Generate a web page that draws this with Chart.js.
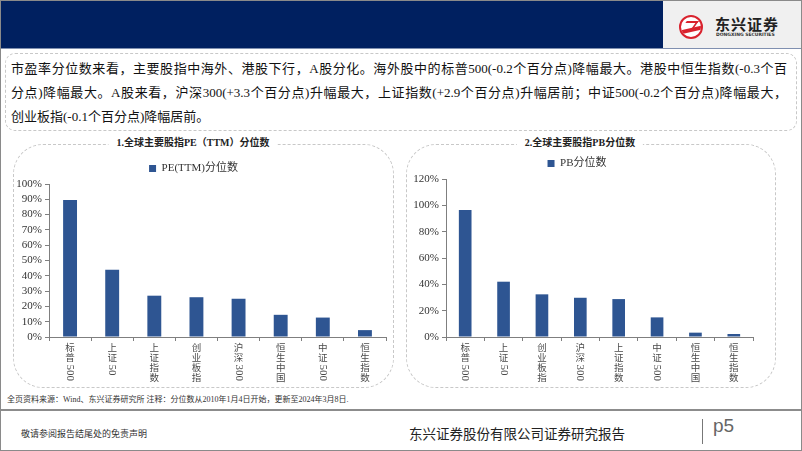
<!DOCTYPE html>
<html>
<head>
<meta charset="utf-8">
<script src="https://cdn.jsdelivr.net/npm/chart.js@4.4.1/dist/chart.umd.min.js"></script>
<style>
  body { margin: 0; background: #fff; }
  #page { position: relative; width: 802px; height: 451px; overflow: hidden; box-sizing: border-box; border: 1px solid #8a8a8a; font-family: "Liberation Serif", "Noto Sans CJK SC", serif; }
  .abs { position: absolute; }
  #header { left: 0; top: 0; width: 662px; height: 47px; background: #002060; }
  #logoBox { left: 662px; top: 0; width: 140px; height: 47px; background: #f0f0f0; }
  #headLine { left: 0; top: 47px; width: 802px; height: 1px; background: #8090b0; }
  #logoCircle { left: 678px; top: 14px; width: 24px; height: 24px; box-sizing: border-box; border-radius: 50%; border: 2.5px solid #d9232e; background: #fff; overflow: hidden; }
  #logoCircle .band { position: absolute; left: -2px; top: 11px; width: 24px; height: 4px; background: #d9232e; transform: skewY(-12deg); }
  #logoCircle .roof { position: absolute; left: 3px; top: 4px; width: 10px; height: 6px; border-top: 2px solid #d9232e; border-right: 2px solid #d9232e; transform: skewX(-35deg); }
  #logoText { left: 714px; top: 14px; font: bold 15px "Noto Sans CJK SC"; color: #222; letter-spacing: 1px; line-height: 17px; }
  #logoSub { left: 715px; top: 31px; font: bold 4.5px "DejaVu Sans"; color: #333; white-space: nowrap; }
  #textBox { left: 4px; top: 52px; width: 792px; height: 78px; box-sizing: border-box; border: 1px dashed #c8c8c8; border-radius: 10px; }
  .line { position: absolute; left: 10px; width: 776px; font-size: 13px; line-height: 16px; color: #111; white-space: nowrap; }
  .just { text-align: justify; text-align-last: justify; }
  .panel { position: absolute; box-sizing: border-box; border: 1px dashed #c8c8c8; border-radius: 30px; }
  .ptitle { position: absolute; transform: translateX(-50%); background: #fff; padding: 0 8px; font-size: 10px; font-weight: bold; color: #222; white-space: nowrap; line-height: 12px; }
  canvas { position: absolute; }
  #note { left: 6px; top: 392px; font-size: 8px; color: #333; white-space: nowrap; }
  #footLine { left: 0; top: 408px; width: 802px; height: 2px; background: #8c8c8c; }
  #disclaim { left: 20px; top: 426px; font-size: 9px; color: #333; white-space: nowrap; }
  #company { left: 408px; top: 422px; font-size: 13.5px; color: #222; white-space: nowrap; }
  #vbar { left: 701px; top: 418px; width: 1px; height: 25px; background: #777; }
  #pnum { left: 712px; top: 414px; font: 19px "Liberation Sans", sans-serif; color: #666; }
</style>
</head>
<body>
<div id="page">
  <div id="header" class="abs"></div>
  <div id="logoBox" class="abs"></div>
  <div id="headLine" class="abs"></div>
  <div id="logoCircle" class="abs"><div class="roof"></div><div class="band"></div></div>
  <div id="logoText" class="abs">东兴证券</div>
  <div id="logoSub" class="abs">DONGXING SECURITIES</div>

  <div id="textBox" class="abs"></div>
  <div class="line just" style="top:60px">市盈率分位数来看，主要股指中海外、港股下行，A股分化。海外股中的标普500(-0.2个百分点)降幅最大。港股中恒生指数(-0.3个百</div>
  <div class="line just" style="top:84px">分点)降幅最大。A股来看，沪深300(+3.3个百分点)升幅最大，上证指数(+2.9个百分点)升幅居前；中证500(-0.2个百分点)降幅最大，</div>
  <div class="line" style="top:108px">创业板指(-0.1个百分点)降幅居前。</div>

  <div class="panel" style="left:12px;top:143px;width:381px;height:244px"></div>
  <div class="panel" style="left:405px;top:143px;width:370px;height:244px"></div>
  <div class="ptitle" style="left:192px;top:136px">1.全球主要股指PE（TTM）分位数</div>
  <div class="ptitle" style="left:579px;top:136px">2.全球主要股指PB分位数</div>

  <canvas id="peChart" width="400" height="240" style="left:0;top:148px;width:400px;height:240px"></canvas>
  <canvas id="pbChart" width="380" height="240" style="left:400px;top:148px;width:380px;height:240px"></canvas>

  <div id="note" class="abs">全页资料来源：Wind、东兴证券研究所 注释：分位数从2010年1月4日开始，更新至2024年3月8日.</div>
  <div id="footLine" class="abs"></div>
  <div id="disclaim" class="abs">敬请参阅报告结尾处的免责声明</div>
  <div id="company" class="abs">东兴证券股份有限公司证券研究报告</div>
  <div id="vbar" class="abs"></div>
  <div id="pnum" class="abs">p5</div>
</div>

<script>
// 数据
const peLabels = ['标普500', '上证50', '上证指数', '创业板指', '沪深300', '恒生中国', '中证500', '恒生指数'];
const peValues = [89.5, 44, 27, 26, 25, 14.5, 12.7, 4.5];
const pbLabels = ['标普500', '上证50', '创业板指', '沪深300', '上证指数', '中证500', '恒生中国', '恒生指数'];
const pbValues = [96.4, 42, 32.4, 29.8, 28.8, 14.9, 3.3, 2.3];

const barColor = '#2e5592';
const axisColor = '#7f7f7f';
const fontFamily = '"Liberation Serif", "Noto Sans CJK SC", serif';

// 竖排的横轴标签：汉字直立，数字旋转
const verticalLabels = {
    id: 'verticalLabels',
    afterDraw(chart) {
        const scale = chart.scales.x;
        const ctx = chart.ctx;
        ctx.save();
        ctx.fillStyle = '#4a4a4a';
        ctx.font = '9.5px ' + fontFamily;
        ctx.textAlign = 'center';
        ctx.textBaseline = 'middle';
        chart.data.labels.forEach((label, i) => {
            const x = scale.getPixelForValue(i);
            let y = scale.top + 6;
            const parts = label.match(/[0-9A-Za-z]+|./g);
            parts.forEach(p => {
                if (/^[0-9A-Za-z]+$/.test(p)) {
                    ctx.font = '11px ' + fontFamily;
                    const w = ctx.measureText(p).width;
                    ctx.save();
                    ctx.translate(x, y + 1 + w / 2);
                    ctx.rotate(Math.PI / 2);
                    ctx.fillText(p, 0, 0);
                    ctx.restore();
                    ctx.font = '9.5px ' + fontFamily;
                    y += w + 1;
                } else {
                    ctx.fillText(p, x, y + 5);
                    y += 10.3;
                }
            });
        });
        ctx.restore();
    }
};

function makeChart(id, labels, values, legendText, maxY, step, yWidth, pad) {
    return new Chart(document.getElementById(id), {
        type: 'bar',
        data: {
            labels: labels,
            datasets: [{
                label: legendText,
                data: values,
                backgroundColor: barColor,
                barPercentage: 0.33,
                categoryPercentage: 1
            }]
        },
        options: {
            responsive: false,
            animation: false,
            layout: { padding: pad },
            plugins: {
                legend: {
                    display: true,
                    labels: {
                        boxWidth: 7,
                        boxHeight: 7,
                        padding: 6,
                        color: '#333',
                        font: { family: fontFamily, size: 11 }
                    }
                },
                tooltip: { enabled: false }
            },
            scales: {
                x: {
                    offset: true,
                    grid: { offset: true, drawOnChartArea: false, tickLength: 4, color: axisColor },
                    border: { color: axisColor },
                    ticks: { display: false },
                    afterFit: s => { s.height = 50; }
                },
                y: {
                    min: 0,
                    max: maxY,
                    grid: { drawOnChartArea: false, tickLength: 4, color: axisColor },
                    border: { color: axisColor },
                    ticks: {
                        stepSize: step,
                        autoSkip: false,
                        padding: 3,
                        color: '#333',
                        font: { family: fontFamily, size: 11 },
                        callback: v => v + '%'
                    },
                    afterFit: s => { s.width = yWidth; }
                }
            }
        },
        plugins: [verticalLabels]
    });
}

makeChart('peChart', peLabels, peValues, 'PE(TTM)分位数', 100, 10, 48, { top: 8, right: 15, left: 0, bottom: 2 });
makeChart('pbChart', pbLabels, pbValues, 'PB分位数', 120, 20, 45, { top: 3, right: 28, left: 0, bottom: 2 });
</script>
</body>
</html>
